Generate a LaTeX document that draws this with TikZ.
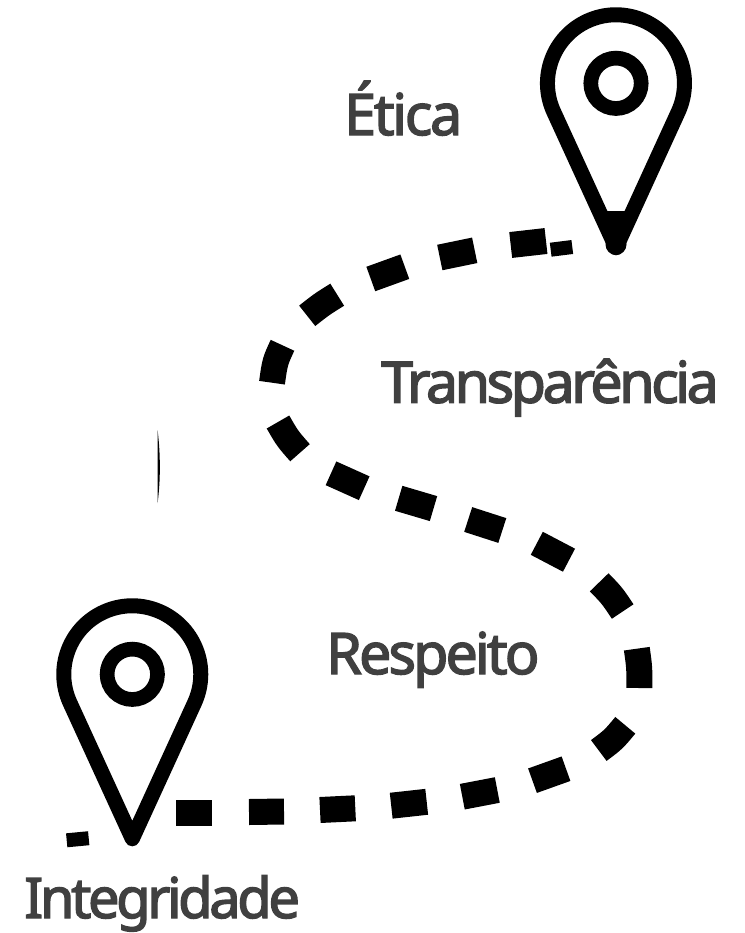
\documentclass[tikz,border=0pt]{standalone}
\usepackage{fontspec}
\setmainfont{Noto Sans}[LetterSpace=-6, FakeBold=2.5]
\usetikzlibrary{positioning}
\definecolor{labelgray}{HTML}{404040}
\tikzset{
    pinline/.style={draw=black, line width=11.25pt, line join=round},
    road/.style={draw=black, line width=19.5pt},
    roadend/.style={draw=black, line width=10.5pt},
    stoplabel/.style={text=labelgray, font=\fontsize{43}{43}\selectfont, anchor=base west, inner sep=0pt},
}

\begin{document}
\begin{tikzpicture}[x=.75pt, y=-.75pt]
    \useasboundingbox (0, 0) rectangle (744, 933);

    % map pins
    \foreach \cx/\cy in {616/83.3, 132.3/674.3} {
        \draw [pinline] (\cx - 62.3, \cy + 28.5) arc [start angle=155.4, end angle=384.6, radius=68.5] -- (\cx, \cy + 164.5) -- cycle;
        \draw [draw=black, line width=11pt] (\cx, \cy) circle [radius=25.2];
    }
    \fill (606.5, 211) -- (625.5, 211) -- (627, 240) -- (616, 254) -- (605, 240) -- cycle;
    \fill (616, 244.5) circle [radius=10.5];

    % road, straight pieces
    \foreach \xa/\ya/\xb/\yb in {510.7/245/546/241, 439.8/257.5/474.7/250.3, 370.8/279/404.8/266.7,
        331/473.3/364.2/488.2, 398.7/498.3/433.5/508.6, 468.2/519.5/502.3/530.5,
        566/768.7/532.5/780.7, 497.3/790/462.3/796.7, 426.7/801.8/391.2/805.7,
        355.3/808.3/320/810, 284/811.5/249/812, 212/812.5/176/812.5} {
        \draw [road] (\xa, \ya) -- (\xb, \yb);
    }
    % road, bent pieces
    \foreach \xa/\ya/\xc/\yc/\xb/\yb in {307.2/315.8/321.5/304.5/337.2/294.7, 282.5/345.3/275/361.5/272/382.7,
        278/422/287.5/438.5/300/452.7, 536.8/543.3/553/551.5/569/560.2,
        599.2/582.3/612/595.5/622.7/611.5, 636.8/648.7/639.5/668/639.3/688,
        625.3/725.3/613.5/739.5/598.8/750.5} {
        \draw [road] (\xa, \ya) .. controls (\xc, \yc) .. (\xb, \yb);
    }
    \draw [roadend] (550.7, 249.7) -- (572.3, 247);
    \draw [roadend] (66.7, 840.3) -- (88.7, 838.2);

    % stray sliver
    \fill (157.6, 430) .. controls (160.6, 455) and (160.6, 480) .. (157.6, 503) -- cycle;

    \node (etica) [stoplabel] at (344, 135) {\addfontfeature{LetterSpace=-4}Ética};
    \node (transparencia) [stoplabel] at (381, 402.7) {Transparência};
    \node (respeito) [stoplabel] at (326, 674) {\addfontfeature{LetterSpace=-5}Respeito};
    \node (integridade) [stoplabel, font=\fontsize{42}{42}\selectfont] at (24, 918) {Integridade};
\end{tikzpicture}
\end{document}
